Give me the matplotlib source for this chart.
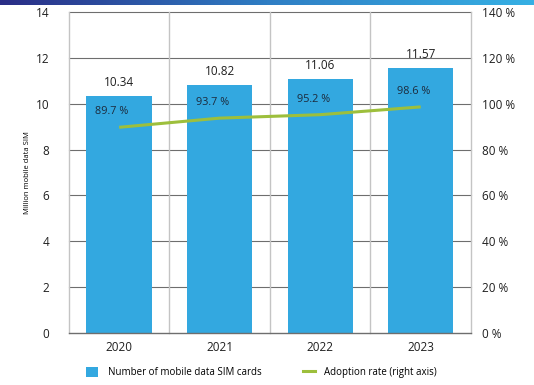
import numpy as np
import matplotlib
matplotlib.use("Agg")
import matplotlib.pyplot as plt
from matplotlib.patches import Patch
from matplotlib.lines import Line2D

plt.rcParams['font.family'] = ['Open Sans', 'DejaVu Sans']

years = ['2020', '2021', '2022', '2023']
sim_cards = [10.34, 10.82, 11.06, 11.57]     # million
adoption = [89.7, 93.7, 95.2, 98.6]          # percent

bar_color = '#33a8e0'
line_color = '#9dbf3c'
text_color = '#1f1f1f'

fig = plt.figure(figsize=(5.34, 3.85), dpi=100)

# thin gradient strip along the top edge
strip = fig.add_axes([0, 0.988, 1, 0.012])
grad = np.linspace(0, 1, 256).reshape(1, -1)
cmap = matplotlib.colors.LinearSegmentedColormap.from_list('strip', ['#2a2d86', '#2f7ec4', '#36b0e4'])
strip.imshow(grad, aspect='auto', cmap=cmap)
strip.axis('off')

ax = fig.add_axes([0.129, 0.135, 0.753, 0.834])
x = np.arange(len(years))

ax.set_xlim(-0.5, len(years) - 0.5)
ax.set_ylim(0, 14)
ax.set_yticks(np.arange(0, 15, 2))

# gridlines: horizontal across, vertical between categories
for yv in np.arange(2, 15, 2):
    ax.axhline(yv, color='#6e6e6e', lw=0.8, zorder=0, clip_on=False)
for xv in np.arange(-0.5, len(years), 1):
    ax.axvline(xv, color='#c4c4c4', lw=1.0, zorder=0, clip_on=False)

bars = ax.bar(x, sim_cards, width=0.65, color=bar_color, zorder=2)
for xi, v in zip(x, sim_cards):
    ax.text(xi, v + 0.3, f'{v:.2f}', ha='center', va='bottom', fontsize=8.5, color=text_color)

for s in ['top', 'left', 'right']:
    ax.spines[s].set_visible(False)
ax.spines['bottom'].set_color('#6e6e6e')
ax.spines['bottom'].set_linewidth(1.0)
ax.spines['bottom'].set_zorder(3)
ax.tick_params(axis='both', length=0, labelsize=8.5, colors=text_color)
ax.tick_params(axis='x', pad=6)
ax.tick_params(axis='y', pad=14)
ax.set_xticks(x)
ax.set_xticklabels(years)
ax.set_ylabel('Million mobile data SIM', fontsize=5.5)
ax.yaxis.set_label_coords(-0.095, 0.5)

ax2 = ax.twinx()
ax2.set_ylim(0, 140)
ax2.set_yticks(np.arange(0, 141, 20))
ax2.set_yticklabels([f'{v} %' for v in range(0, 141, 20)])
ax2.tick_params(axis='y', length=0, labelsize=8.5, colors=text_color, pad=8)
for s in ax2.spines.values():
    s.set_visible(False)

ax2.plot(x, adoption, color=line_color, lw=2.2, solid_capstyle='butt', zorder=3)
for xi, v in zip(x, adoption):
    ax2.text(xi - 0.07, v + 4.3, f'{v:.1f} %', ha='center', va='bottom', fontsize=7.8, color='#1c2a3c')

handles = [Patch(facecolor=bar_color, edgecolor='none', label='Number of mobile data SIM cards'),
           Line2D([0], [0], color=line_color, lw=2.2, label='Adoption rate (right axis)')]
fig.legend(handles=handles, loc='lower center', bbox_to_anchor=(0.49, -0.005), ncol=2,
           frameon=False, fontsize=7, handlelength=1.2, handleheight=1.2,
           columnspacing=4.3, handletextpad=1.0)

fig.savefig('out.png', dpi=100)
